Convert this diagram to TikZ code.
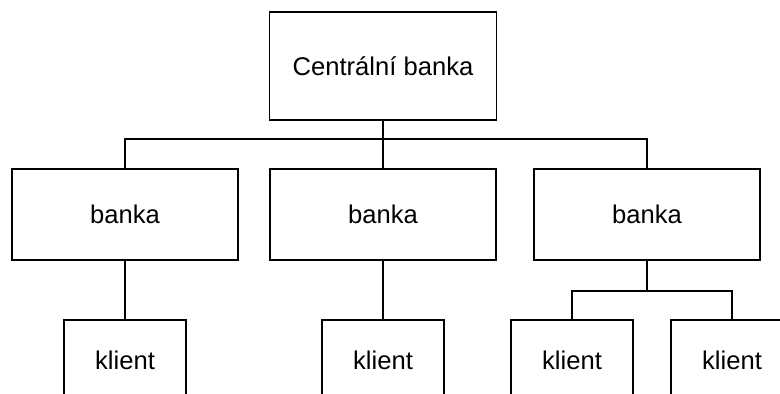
\documentclass[tikz,border=0pt]{standalone}
\usepackage{fontspec}
\setmainfont{Liberation Sans}
\usetikzlibrary{positioning}

\begin{document}
\begin{tikzpicture}[x=0.5pt, y=-0.5pt, line width=0.75pt,
    box/.style={draw, inner sep=0pt, font=\fontsize{12.8}{15}\selectfont},
    bank/.style={box, minimum width=113pt, minimum height=45.5pt},
    client/.style={box, minimum width=61pt, minimum height=40pt}]
    \clip (0,0) rectangle (780,394);
    \fill[white] (0,0) rectangle (780,394);
    \node[box, minimum width=113.5pt, minimum height=54pt] (cb) at (383,66) {Centrální banka};
    \node[bank] (b1) at (125,214.5) {banka};
    \node[bank] (b2) at (383,214.5) {banka};
    \node[bank] (b3) at (647,214.5) {banka};
    \node[client] (k1) at (125,360) {klient};
    \node[client] (k2) at (383,360) {klient};
    \node[client] (k3) at (572,360) {klient};
    \node[client] (k4) at (732,360) {klient};
    \coordinate (bus) at (383,139);
    \coordinate (sub) at (647,291);
    \draw (cb.south) -- (bus);
    \draw (b1.north) |- (bus) -| (b3.north);
    \draw (bus) -- (b2.north);
    \draw (b1.south) -- (k1.north);
    \draw (b2.south) -- (k2.north);
    \draw (b3.south) -- (sub);
    \draw (k3.north) |- (sub) -| (k4.north);
\end{tikzpicture}
\end{document}
